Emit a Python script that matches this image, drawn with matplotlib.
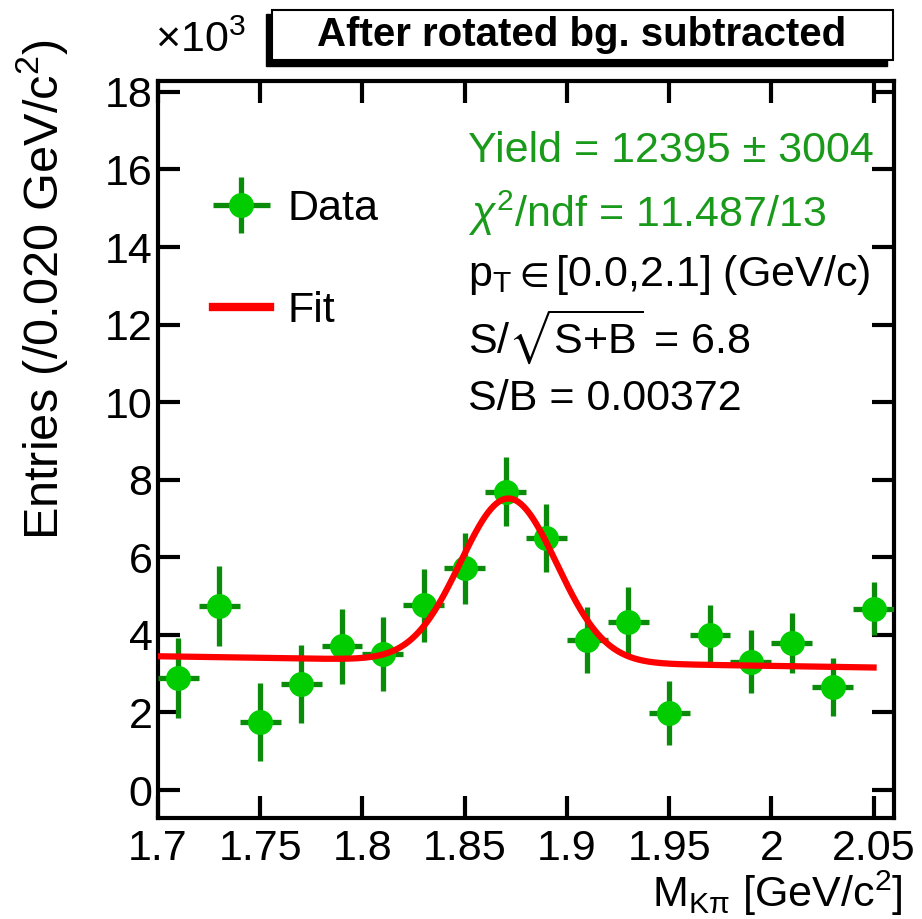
import matplotlib
matplotlib.use("Agg")
import matplotlib.pyplot as plt
import numpy as np
from matplotlib.lines import Line2D
from matplotlib.patches import Rectangle
from matplotlib.legend_handler import HandlerErrorbar

# bin centres of the K-pi invariant mass histogram (GeV/c^2)
mass = [1.71, 1.73, 1.75, 1.77, 1.79, 1.81, 1.83, 1.85, 1.87,
        1.89, 1.91, 1.93, 1.95, 1.97, 1.99, 2.01, 2.03, 2.05]
half_bin = 0.01
# entries after rotated-background subtraction (x10^3)
entries = [2.89, 4.75, 1.76, 2.73, 3.71, 3.50, 4.76, 5.72, 7.69,
           6.49, 3.87, 4.34, 1.98, 3.99, 3.31, 3.80, 2.66, 4.68]
entries_err = [1.03, 1.03, 1.00, 1.00, 0.97, 0.95, 0.94, 0.92, 0.89,
               0.88, 0.85, 0.89, 0.82, 0.77, 0.82, 0.77, 0.74, 0.69]

# fit result: gaussian signal + linear background
fit_range = (1.70, 2.05)
fit_yield = 12.395  # x10^3
fit_mean = 1.8715
fit_sigma = 0.0235
bin_width = 0.02
bg_at_low = 3.45
bg_at_high = 3.16

info_green = ["Yield = 12395 ± 3004", r"$\chi^{2}$/ndf = 11.487/13"]
info_black = [r"p$_{\mathrm{T}}\in$[0.0,2.1] (GeV/c)",
              r"S/$\sqrt{\mathrm{S{+}B}}$ = 6.8",
              "S/B = 0.00372"]

MARKER_GREEN = "#00cc00"
BAR_GREEN = "#0a8c0a"
TEXT_GREEN = "#1a9a1a"

plt.rcParams.update({
    "font.family": ["Liberation Sans", "DejaVu Sans"],
    "mathtext.fontset": "custom",
    "mathtext.rm": "Liberation Sans",
    "mathtext.it": "Liberation Sans:italic",
    "mathtext.bf": "Liberation Sans:bold",
    "mathtext.fallback": "stixsans",
    "font.size": 31,
})

W, H = 922, 919
fig = plt.figure(figsize=(W / 100, H / 100), dpi=100)
ax = fig.add_axes([158 / W, 1 - 818 / H, (894 - 158) / W, (818 - 81) / H])

ax.errorbar(mass, entries, xerr=half_bin, yerr=entries_err, fmt="none",
            ecolor=BAR_GREEN, elinewidth=3.8, capsize=0, zorder=3)
ax.plot(mass, entries, "o", color=MARKER_GREEN, markersize=17, zorder=4)

xf = np.linspace(fit_range[0], fit_range[1], 500)
bg = bg_at_low + (bg_at_high - bg_at_low) * (xf - fit_range[0]) / (fit_range[1] - fit_range[0])
amp = fit_yield * bin_width / (fit_sigma * np.sqrt(2 * np.pi))
yf = bg + amp * np.exp(-0.5 * ((xf - fit_mean) / fit_sigma) ** 2)
ax.plot(xf, yf, color="red", lw=4.5, zorder=5)

ax.set_xlim(1.70, 2.06)
ax.set_ylim(-0.72, 18.28)
ax.set_xticks([1.7, 1.75, 1.8, 1.85, 1.9, 1.95, 2.0, 2.05])
ax.set_xticklabels(["1.7", "1.75", "1.8", "1.85", "1.9", "1.95", "2", "2.05"])
ax.set_yticks(range(0, 19, 2))
ax.tick_params(direction="in", length=16, width=3, top=True, right=True,
               labelsize=31)
ax.tick_params(axis="x", pad=8)
ax.tick_params(axis="y", pad=4)
for s in ax.spines.values():
    s.set_linewidth(3)

ax.set_xlabel(r"M$_{\mathrm{K\pi}}$ [GeV/c$^{2}$]", loc="right", fontsize=31)
ax.set_ylabel(r"Entries (/0.020 GeV/c$^{2}$)", loc="top", fontsize=35)
ax.xaxis.set_label_coords(1.012, -0.0685)
ax.yaxis.set_label_coords(-0.12, 1.056)

fig.text(155 / W, 1 - 52 / H, r"$\times$10$^{3}$", fontsize=31, ha="left", va="baseline")

# title box with shadow
fig.patches.append(Rectangle((266 / W, 1 - 66 / H), (887 - 266) / W, (66 - 14) / H,
                             transform=fig.transFigure, facecolor="black",
                             edgecolor="black", zorder=1))
fig.patches.append(Rectangle((272 / W, 1 - 60 / H), (893 - 272) / W, (60 - 10) / H,
                             transform=fig.transFigure, facecolor="white",
                             edgecolor="black", lw=1.5, zorder=2))
fig.text(582 / W, 1 - 35 / H, "After rotated bg. subtracted", fontsize=29,
         fontweight="bold", ha="center", va="center", zorder=3)

# legend
eb = ax.errorbar([], [], xerr=1, yerr=1, fmt="o", color=MARKER_GREEN,
                 ecolor=BAR_GREEN, elinewidth=3.8, markersize=17)
fit_handle = Line2D([], [], color="red", lw=6)
ax.legend([eb, fit_handle], ["Data", "Fit"], loc="upper left",
          bbox_to_anchor=(213 / W, 1 - 189 / H), bbox_transform=fig.transFigure,
          frameon=False, fontsize=31, handlelength=1.32, handletextpad=0.4,
          labelspacing=1.45, borderpad=0, borderaxespad=0,
          handler_map={type(eb): HandlerErrorbar(xerr_size=0.66)})

y0 = 151
for i, t in enumerate(info_green):
    fig.text(468 / W, 1 - (y0 + 62 * i) / H, t, color=TEXT_GREEN, fontsize=31,
             ha="left", va="center")
for i, t in enumerate(info_black):
    fig.text(468 / W, 1 - (y0 + 62 * (i + 2)) / H, t, color="black", fontsize=31,
             ha="left", va="center")

fig.savefig("out.png", dpi=100)
